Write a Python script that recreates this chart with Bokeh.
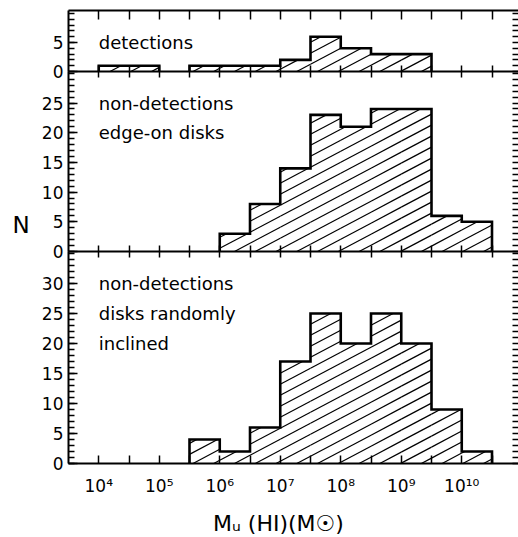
import math
from bokeh.plotting import figure
from bokeh.models import Range1d, LinearAxis, FixedTicker, CustomJSTickFormatter, Label
from bokeh.embed import file_html
from bokeh.resources import INLINE

# Half-decade bins in log10 M(HI) [M_sun]
bin_edges = [4.0, 4.5, 5.0, 5.5, 6.0, 6.5, 7.0, 7.5, 8.0, 8.5, 9.0, 9.5, 10.0, 10.5]

# Number of galaxies per bin
detections = [1, 1, 0, 1, 1, 1, 2, 6, 4, 3, 3, 0, 0]
nondet_edge_on = [0, 0, 0, 0, 3, 8, 14, 23, 21, 24, 24, 6, 5]
nondet_random = [0, 0, 0, 4, 2, 6, 17, 25, 20, 25, 20, 9, 2]

# x tick labels (one per decade)
decades = [4, 5, 6, 7, 8, 9, 10]
decade_labels = ["10⁴", "10⁵", "10⁶", "10⁷", "10⁸", "10⁹", "10¹⁰"]

FONT = "DejaVu Sans"

# ---- page geometry (the plot frame fills the whole canvas) ---------------
W, H = 518, 537
AXIS_LEFT_PX = 68          # left axis line
FRAME_BOTTOM_PX = 463      # bottom axis line
PX_PER_DEX = 60.5
X0 = 3.5                   # log M at the left axis
X_START = X0 - AXIS_LEFT_PX / PX_PER_DEX
X_END = X0 + (W - AXIS_LEFT_PX) / PX_PER_DEX

HATCH_SLOPE = 0.53         # rise per pixel run
HATCH_GAP = 11.0           # vertical spacing of hatch lines, px

# each panel: its baseline / upper edge on the page and its vertical scale
panels = [
    dict(name="top", counts=detections, baseline=71, upper=10, ppu=5.8,
         major=[0, 5], minor=list(range(0, 11)),
         texts=[("detections", 5)]),
    dict(name="mid", counts=nondet_edge_on, baseline=251, upper=71, ppu=5.94,
         major=[0, 5, 10, 15, 20, 25], minor=list(range(0, 31)),
         texts=[("non-detections", 25), ("edge-on disks", 20)]),
    dict(name="default", counts=nondet_random, baseline=FRAME_BOTTOM_PX, upper=251, ppu=6.0,
         major=[0, 5, 10, 15, 20, 25, 30], minor=list(range(0, 36)),
         texts=[("non-detections", 30), ("disks randomly", 25), ("inclined", 20)]),
]


def panel_range(pn):
    start = -(H - pn["baseline"]) / pn["ppu"]
    return Range1d(start, start + H / pn["ppu"])


def hatch_segments(counts, ppu):
    """Parallel slanted lines clipped to the histogram bars (data units)."""
    m = HATCH_SLOPE * PX_PER_DEX / ppu
    dy = HATCH_GAP / ppu
    x0s, y0s, x1s, y1s = [], [], [], []
    for a, b, h in zip(bin_edges[:-1], bin_edges[1:], counts):
        if h <= 0:
            continue
        k_lo = math.floor((m * (a - X0) - h) / dy)
        k_hi = math.ceil(m * (b - X0) / dy)
        for k in range(k_lo, k_hi + 1):
            c = k * dy
            xa = max(a, X0 + c / m)
            xb = min(b, X0 + (c + h) / m)
            if xb > xa:
                x0s.append(xa)
                y0s.append(m * (xa - X0) - c)
                x1s.append(xb)
                y1s.append(m * (xb - X0) - c)
    return x0s, y0s, x1s, y1s


def occupied_runs(counts):
    """Index ranges [i0, i1] of consecutive non-empty bins."""
    runs, start = [], None
    for i, c in enumerate(counts + [0]):
        if c > 0 and start is None:
            start = i
        elif c <= 0 and start is not None:
            runs.append((start, i - 1))
            start = None
    return runs


ranges = {pn["name"]: panel_range(pn) for pn in panels}

p = figure(width=W, height=H, output_backend="svg", toolbar_location=None,
           x_axis_type=None, y_axis_type=None,
           x_range=Range1d(X_START, X_END), y_range=ranges["default"],
           min_border=0, outline_line_color=None,
           background_fill_color="white", border_fill_color="white")
p.extra_y_ranges = {k: v for k, v in ranges.items() if k != "default"}

no_labels = CustomJSTickFormatter(code="return '';")

for pn in panels:
    name = pn["name"]
    counts = pn["counts"]
    top_val = (pn["baseline"] - pn["upper"]) / pn["ppu"]

    # hatching of the bars
    x0s, y0s, x1s, y1s = hatch_segments(counts, pn["ppu"])
    p.segment(x0=x0s, y0=y0s, x1=x1s, y1=y1s, y_range_name=name,
              line_color="black", line_width=1.2)

    # histogram outline, one stepped line per run of occupied bins
    for i0, i1 in occupied_runs(counts):
        xs = [bin_edges[i0]] + bin_edges[i0:i1 + 2]
        ys = [0] + counts[i0:i1 + 1] + [0]
        p.step(x=xs, y=ys, mode="after", y_range_name=name,
               line_color="black", line_width=2.6, line_join="miter")

    # left axis with labels
    la = LinearAxis(y_range_name=name, fixed_location=X0, bounds=(0, top_val),
                    ticker=FixedTicker(ticks=pn["major"], minor_ticks=pn["minor"]),
                    axis_line_width=2, major_tick_in=9, major_tick_out=0,
                    minor_tick_in=6, minor_tick_out=0,
                    major_tick_line_width=1.5, minor_tick_line_width=1.3,
                    major_label_text_font=FONT, major_label_text_font_size="17px",
                    major_label_text_color="black", major_label_standoff=5)
    p.add_layout(la, "left")

    # right edge: ticks only
    ra = LinearAxis(y_range_name=name, fixed_location=X_END,
                    ticker=FixedTicker(ticks=pn["minor"], minor_ticks=[]),
                    formatter=no_labels, axis_line_color=None,
                    major_tick_in=6, major_tick_out=0, major_tick_line_width=1.5,
                    major_label_text_color=None)
    p.add_layout(ra, "right")

    # baseline with crossing ticks (upper panels)
    if name != "default":
        ba = LinearAxis(y_range_name=name, fixed_location=0, bounds=(X0, X_END),
                        ticker=FixedTicker(ticks=bin_edges, minor_ticks=[]),
                        formatter=no_labels, axis_line_width=1.8,
                        major_tick_in=6, major_tick_out=6, major_tick_line_width=1.5,
                        major_label_text_color=None)
        p.add_layout(ba, "below")

    # panel captions
    for txt, yv in pn["texts"]:
        p.add_layout(Label(x=bin_edges[0], y=yv, y_range_name=name, text=txt,
                           text_font=FONT, text_font_size="18px", text_color="black",
                           text_align="left", text_baseline="middle"))

# top edge of the frame
top_val = (panels[0]["baseline"] - panels[0]["upper"]) / panels[0]["ppu"]
ta = LinearAxis(y_range_name="top", fixed_location=top_val, bounds=(X0, X_END),
                ticker=FixedTicker(ticks=bin_edges, minor_ticks=[]),
                formatter=no_labels, axis_line_width=2,
                major_tick_in=9, major_tick_out=0, major_tick_line_width=1.5,
                major_label_text_color=None)
p.add_layout(ta, "above")

# bottom axis with decade labels
xa = LinearAxis(fixed_location=0, bounds=(X0, X_END),
                ticker=FixedTicker(ticks=bin_edges, minor_ticks=[]),
                formatter=CustomJSTickFormatter(
                    args=dict(decades=decades, labels=decade_labels),
                    code="const i = decades.indexOf(tick); return i >= 0 ? labels[i] : '';"),
                axis_line_width=2, major_tick_in=8, major_tick_out=0,
                major_tick_line_width=1.5,
                major_label_text_font=FONT, major_label_text_font_size="17px",
                major_label_text_color="black", major_label_standoff=12)
p.add_layout(xa, "below")

# axis titles
p.add_layout(Label(x=20.5, y=4.4, x_units="screen", y_range_name="mid", text="N",
                   text_font=FONT, text_font_size="23px", text_color="black",
                   text_align="center", text_baseline="middle"))
p.add_layout(Label(x=6.97, y=14, y_units="screen", text="Mᵤ (HI)(M☉)",
                   text_font=FONT, text_font_size="22px", text_color="black",
                   text_align="center", text_baseline="middle"))

open("out.html", "w").write(file_html(p, INLINE))
